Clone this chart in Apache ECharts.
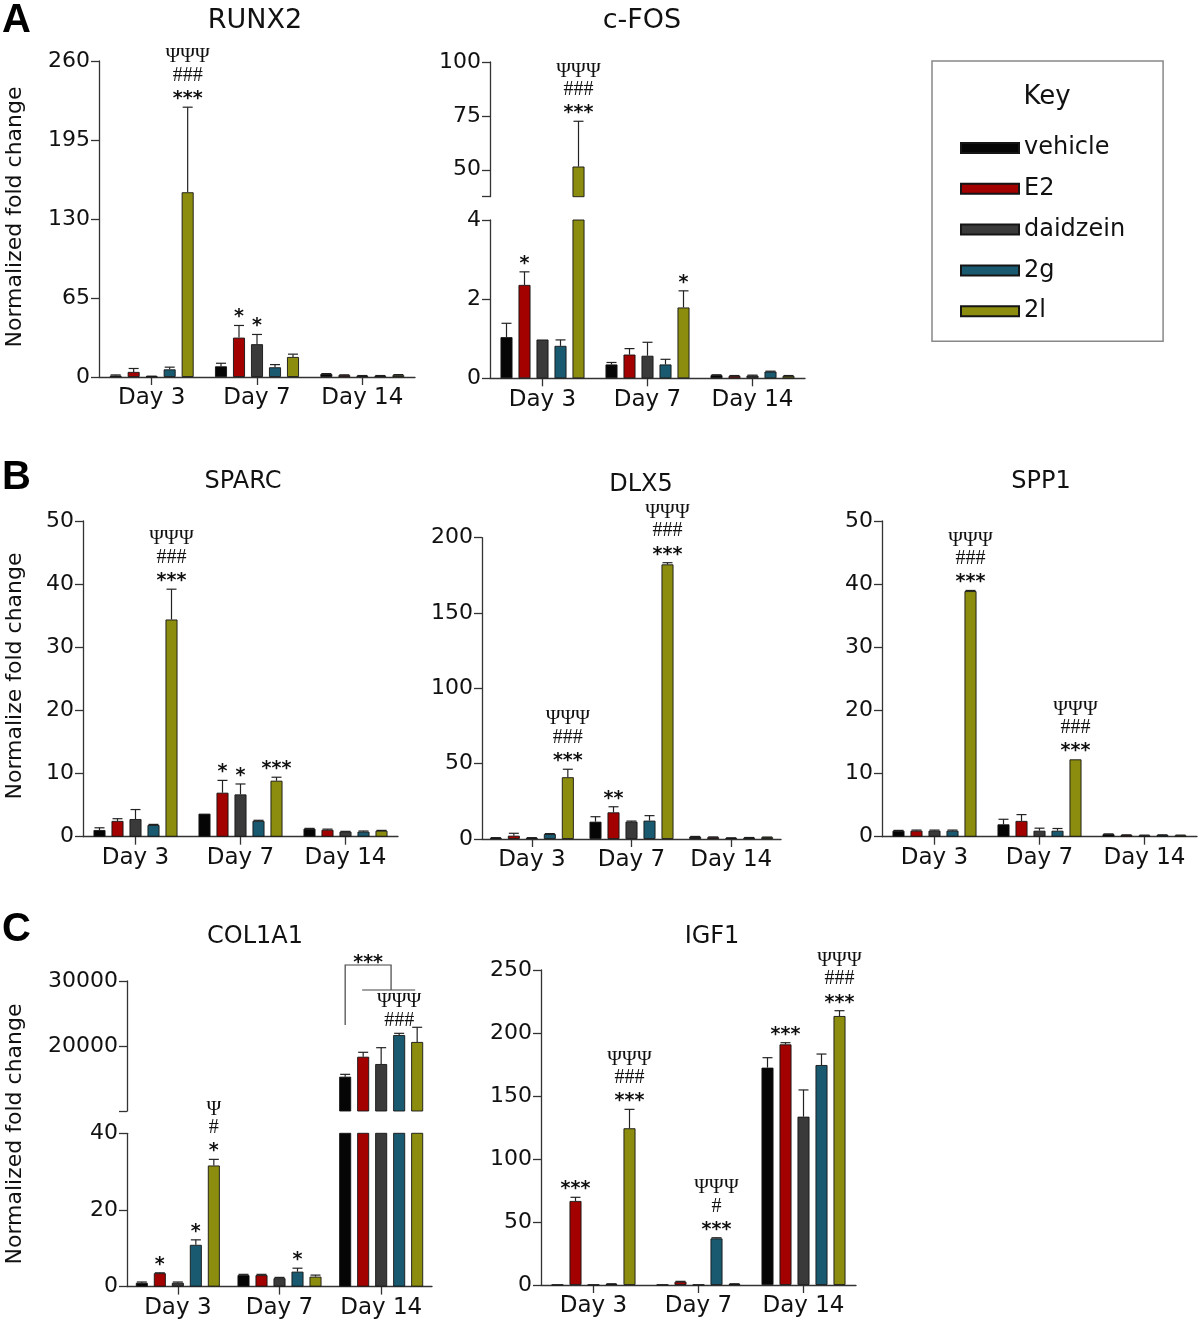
<!DOCTYPE html>
<html><head><meta charset="utf-8">
<script src="https://cdn.jsdelivr.net/npm/echarts@6/dist/echarts.min.js"></script>
<style>html,body{margin:0;padding:0;background:#fff}#c{width:1200px;height:1324px}</style>
</head><body><div id="c"></div>
<script>
// ---------- DATA ----------
const days = ['Day 3', 'Day 7', 'Day 14'];
const groups = ['vehicle', 'E2', 'daidzein', '2g', '2l'];
const colors = ['#050505', '#a30000', '#3a3a3a', '#195a70', '#8c8c0e'];

// rows: vehicle, E2, daidzein, 2g, 2l ; columns: Day 3, Day 7, Day 14
const runx2Mean = [[1.2, 8.8, 2.5], [4.2, 32.4, 1.5], [0.5, 27, 1.0], [6.3, 8.0, 1.0], [152, 16.5, 1.5]];
const runx2Err  = [[0.5, 2.5, 0.3], [2.8, 10, 0.3], [0.2, 8, 0.2], [1.8, 2.2, 0.2], [70, 2.3, 0.5]];
const cfosMean  = [[1.04, 0.35, 0.08], [2.36, 0.60, 0.06], [0.98, 0.57, 0.07], [0.82, 0.35, 0.17], [51.5, 1.79, 0.06]];
const cfosErr   = [[0.35, 0.05, 0.01], [0.33, 0.15, 0.01], [0, 0.34, 0.01], [0.15, 0.13, 0.01], [21, 0.42, 0.01]];
const sparcMean = [[1.06, 3.65, 1.27], [2.5, 6.97, 1.1], [2.8, 6.7, 0.8], [1.85, 2.5, 0.8], [34.4, 8.87, 0.95]];
const sparcErr  = [[0.35, 0, 0.05], [0.35, 1.95, 0.1], [1.5, 1.65, 0.05], [0.1, 0.1, 0.1], [4.8, 0.55, 0.05]];
const dlx5Mean  = [[0.8, 11.5, 1.5], [2.2, 17.7, 1.2], [0.8, 11.5, 0.7], [3.3, 12.2, 0.9], [41, 182.3, 1.2]];
const dlx5Err   = [[0.1, 3.3, 0.2], [1.6, 3.7, 0.2], [0.1, 0.4, 0.1], [0.3, 3.3, 0.1], [5.3, 1.1, 0.1]];
const spp1Mean  = [[0.95, 1.96, 0.4], [0.95, 2.5, 0.25], [0.95, 0.95, 0.2], [0.95, 0.95, 0.25], [38.9, 12.25, 0.2]];
const spp1Err   = [[0.05, 0.8, 0.05], [0.1, 1.0, 0.05], [0.1, 0.4, 0.05], [0.1, 0.35, 0.05], [0.1, 0, 0.05]];
const col1a1Mean = [[1.0, 3.0, 15280], [3.5, 3.0, 18350], [1.0, 2.2, 17230], [10.9, 3.9, 21690], [31.6, 2.6, 20620]];
const col1a1Err  = [[0.2, 0.2, 360], [0.1, 0.2, 680], [0.2, 0.2, 2510], [1.3, 0.9, 260], [1.6, 0.4, 2260]];
const igf1Mean  = [[0.3, 0.3, 172.5], [66.7, 2.6, 191], [0.3, 0.3, 133.6], [0.8, 37, 174.6], [124.4, 0.8, 213.5]];
const igf1Err   = [[0, 0, 7.9], [2.9, 0.3, 1.3], [0, 0, 21.2], [0.2, 0.5, 8.7], [15, 0.2, 4.2]];

// significance notes: [day index, group index, lines top-to-bottom]
const S3 = ['ΨΨΨ', '###', '***'];
const runx2Notes = [[0, 4, S3], [1, 1, ['*']], [1, 2, ['*']]];
const cfosNotes = [[0, 1, ['*']], [0, 4, S3], [1, 4, ['*']]];
const sparcNotes = [[0, 4, S3], [1, 1, ['*']], [1, 2, ['*']], [1, 4, ['***']]];
const dlx5Notes = [[0, 4, S3], [1, 1, ['**']], [1, 4, S3]];
const spp1Notes = [[0, 4, S3], [1, 4, S3]];
const col1a1Notes = [[0, 1, ['*']], [0, 3, ['*']], [0, 4, ['Ψ', '#', '*']], [1, 3, ['*']], [2, 3, ['ΨΨΨ', '###']]];
const col1a1Bracket = [2, 0, '***']; // day, from group, label (vehicle vs E2..2l)
const igf1Notes = [[0, 1, ['***']], [0, 4, S3], [1, 3, ['ΨΨΨ', '#', '***']], [2, 1, ['***']], [2, 4, S3]];

// ---------- BUILD ----------
const FONT = 'DejaVu Sans';
const SERIF = 'Liberation Serif';
const BW = 12, GAPR = 0.5, PITCH = BW * (1 + GAPR);
const AX = '#333';
const grids = [], xAxes = [], yAxes = [], series = [];

function noteStyle(t) {
  const star = t[0] === '*';
  return star
    ? { text: t, fontFamily: FONT, fontWeight: 'bold', fontSize: 19, fill: '#111', align: 'center', verticalAlign: 'middle' }
    : { text: t, fontFamily: SERIF, fontSize: 20, fill: '#111', align: 'center', verticalAlign: 'middle' };
}

function addGrid(box, y, showX, mean, err, notes) {
  const gi = grids.length;
  grids.push({ left: box[0], top: box[1], width: box[2], height: box[3] });
  xAxes.push({
    type: 'category', gridIndex: gi, data: days, show: showX,
    axisLine: { show: true, lineStyle: { color: AX, width: 1.3 } },
    axisTick: { show: true, alignWithLabel: true, length: 8, lineStyle: { color: AX, width: 1.3 } },
    axisLabel: { fontFamily: FONT, fontSize: 23, color: '#111', margin: 10, interval: 0, hideOverlap: false },
    splitLine: { show: false }
  });
  const ya = {
    type: 'value', gridIndex: gi, min: y.min, max: y.max,
    axisLine: { show: true, lineStyle: { color: AX, width: 1.3 } },
    axisTick: { show: true, length: 8, lineStyle: { color: AX, width: 1.3 } },
    axisLabel: { fontFamily: FONT, fontSize: 22, color: '#111', margin: 9, formatter: v => String(v) },
    splitLine: { show: false }
  };
  if (y.interval) ya.interval = y.interval;
  if (y.ticks) { ya.axisTick.customValues = y.ticks; }
  if (y.labels) { ya.axisLabel.customValues = y.labels; }
  yAxes.push(ya);
  const lo = y.min, hi = y.max;
  groups.forEach((g, k) => {
    series.push({
      type: 'bar', name: g, xAxisIndex: gi, yAxisIndex: gi, data: mean[k],
      barWidth: BW, barGap: (GAPR * 100) + '%', silent: true, animation: false,
      itemStyle: { color: colors[k], borderColor: '#151515', borderWidth: 0.9 }
    });
  });
  const errData = [];
  groups.forEach((g, k) => days.forEach((d, j) => errData.push([j, k, mean[k][j], err[k][j]])));
  series.push({
    type: 'custom', xAxisIndex: gi, yAxisIndex: gi, data: errData, silent: true, animation: false,
    renderItem: (p, api) => {
      const j = api.value(0), k = api.value(1), m = api.value(2), e = api.value(3);
      if (!(e > 0) || m > hi || m + e < lo) return { type: 'group', children: [] };
      const x = api.coord([j, hi])[0] + (k - 2) * PITCH;
      const y0 = api.coord([j, Math.max(m, lo)])[1];
      const y1 = api.coord([j, Math.min(m + e, hi)])[1];
      const st = { stroke: '#222', lineWidth: 1.2 };
      return { type: 'group', children: [
        { type: 'line', shape: { x1: x, y1: y0, x2: x, y2: y1 }, style: st },
        { type: 'line', shape: { x1: x - 5, y1: y1, x2: x + 5, y2: y1 }, style: st }
      ] };
    }
  });
  if (notes && notes.length) {
    series.push({
      type: 'custom', xAxisIndex: gi, yAxisIndex: gi, data: notes.map(n => [n[0], n[1]]),
      silent: true, animation: false, clip: false,
      renderItem: (p, api) => {
        const n = notes[p.dataIndex];
        const j = n[0], k = n[1], lines = n[2];
        const top = mean[k][j] + err[k][j];
        if (top < lo || top > hi) return { type: 'group', children: [] };
        const x = api.coord([j, hi])[0] + (k - 2) * PITCH;
        const yb = api.coord([j, top])[1] - 13;
        const ch = lines.slice().reverse().map((t, i) => ({
          type: 'text', x: x, y: yb - i * 18.5 + (t[0] === '*' ? 5 : 0), style: noteStyle(t)
        }));
        return { type: 'group', children: ch };
      }
    });
  }
  return gi;
}

// Panel A
addGrid([99, 61, 316, 316], { min: 0, max: 260, interval: 65 }, true, runx2Mean, runx2Err, runx2Notes);
addGrid([490, 62, 315, 134.7], { min: 37.5, max: 100, ticks: [37.5, 50, 75, 100], labels: [50, 75, 100] }, false, cfosMean, cfosErr, cfosNotes);
addGrid([490, 220, 315, 158.3], { min: 0, max: 4, interval: 2 }, true, cfosMean, cfosErr, cfosNotes);
// Panel B
addGrid([83, 521, 315, 315.7], { min: 0, max: 50, interval: 10 }, true, sparcMean, sparcErr, sparcNotes);
addGrid([482, 537.7, 299, 301.3], { min: 0, max: 200, interval: 50 }, true, dlx5Mean, dlx5Err, dlx5Notes);
addGrid([882, 521, 315, 315.7], { min: 0, max: 50, interval: 10 }, true, spp1Mean, spp1Err, spp1Notes);
// Panel C
const colUp = addGrid([127, 981, 305, 130], { min: 10000, max: 30000, ticks: [10000, 20000, 30000], labels: [20000, 30000] }, false, col1a1Mean, col1a1Err, col1a1Notes);
addGrid([127, 1133.3, 305, 153.3], { min: 0, max: 40, interval: 20 }, true, col1a1Mean, col1a1Err, col1a1Notes);
addGrid([541, 970, 315, 315], { min: 0, max: 250, interval: 50 }, true, igf1Mean, igf1Err, igf1Notes);

// comparison bracket (COL1A1, Day 14)
series.push({
  type: 'custom', xAxisIndex: colUp, yAxisIndex: colUp, data: [[col1a1Bracket[0], col1a1Bracket[1]]],
  silent: true, animation: false, clip: false,
  renderItem: (p, api) => {
    const j = col1a1Bracket[0], g0 = col1a1Bracket[1];
    const c = api.coord([j, 30000]);
    const cx = c[0], top = c[1];
    const xl = cx + (g0 - 2) * PITCH, xm = cx + 0.55 * PITCH;
    const x1 = cx - PITCH - 1, x2 = cx + 2 * PITCH - 2;
    const yTop = top - 16, yLow = top + 9, yLeft = top + 44;
    const st = { stroke: '#444', lineWidth: 1.2, fill: null };
    return { type: 'group', children: [
      { type: 'polyline', shape: { points: [[xl, yLeft], [xl, yTop], [xm, yTop], [xm, yLow]] }, style: st },
      { type: 'line', shape: { x1: x1, y1: yLow, x2: x2, y2: yLow }, style: st },
      { type: 'text', x: (xl + xm) / 2, y: top - 23 + 5, style: noteStyle(col1a1Bracket[2]) }
    ] };
  }
});

function txt(t, x, y, size, opts) {
  return Object.assign({ type: 'text', x: x, y: y, silent: true,
    style: Object.assign({ text: t, fontFamily: FONT, fontSize: size, fill: '#111', align: 'center', verticalAlign: 'middle' }, (opts && opts.style) || {}) },
    (opts && opts.el) || {});
}
const bold = { style: { fontFamily: 'Liberation Sans', fontWeight: 'bold', align: 'left', fill: '#000' } };
const rot = { el: { rotation: Math.PI / 2 } };

const graphics = [
  txt('A', 2, 21, 40, bold), txt('B', 2, 478, 40, bold), txt('C', 2, 930, 40, bold),
  txt('RUNX2', 255, 21, 27), txt('c-FOS', 642, 21, 27),
  txt('SPARC', 243, 482, 24), txt('DLX5', 641, 485, 24), txt('SPP1', 1041, 482, 24),
  txt('COL1A1', 255, 937, 24), txt('IGF1', 712, 937, 24),
  txt('Key', 1047, 97, 26),
  txt('Normalized fold change', 15, 217, 22, rot),
  txt('Normalize fold change', 15, 676, 22, rot),
  txt('Normalized fold change', 15, 1134, 22, rot)
];

const chart = echarts.init(document.getElementById('c'), null, { renderer: 'canvas' });
chart.setOption({
  animation: false,
  backgroundColor: '#fff',
  grid: grids, xAxis: xAxes, yAxis: yAxes, series: series,
  legend: {
    data: groups, orient: 'vertical', left: 932, top: 61, selectedMode: false,
    padding: [75, 38, 18, 28], itemGap: 16.8, itemWidth: 58, itemHeight: 10, icon: 'rect',
    borderColor: '#888', borderWidth: 1.5,
    textStyle: { fontFamily: FONT, fontSize: 24, lineHeight: 24, color: '#111' }
  },
  graphic: graphics
});
</script>
</body></html>
